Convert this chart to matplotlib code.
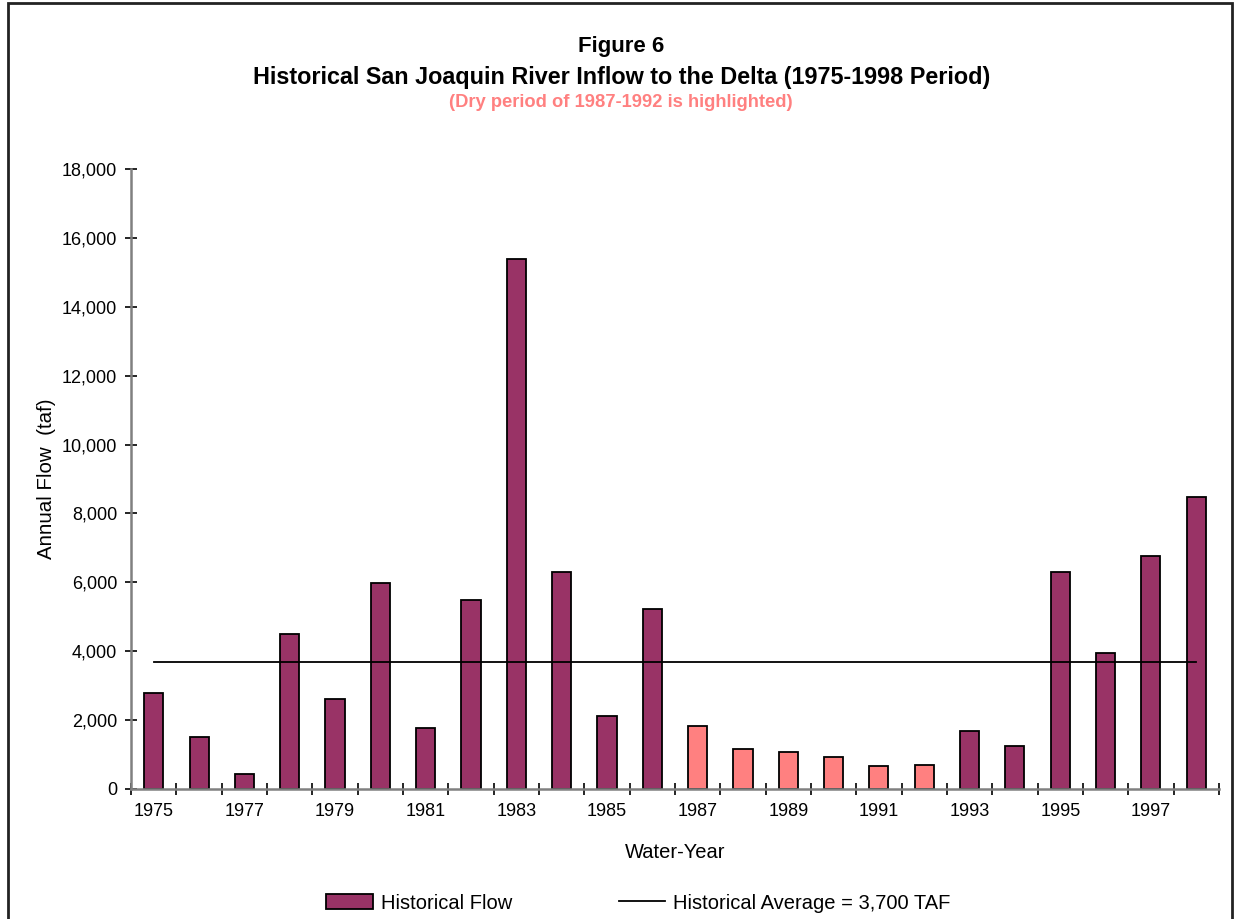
import matplotlib
matplotlib.use("Agg")
import matplotlib.pyplot as plt
from matplotlib.patches import Patch, Rectangle
from matplotlib.lines import Line2D
from matplotlib.ticker import FuncFormatter

plt.rcParams['font.family'] = ['Liberation Sans', 'DejaVu Sans']

# annual San Joaquin inflow (taf)
years = list(range(1975, 1999))
flow = [2800, 1520, 420, 4490, 2600, 5970, 1780, 5480, 15400, 6300, 2110, 5230,
        1820, 1160, 1080, 920, 670, 710, 1690, 1240, 6300, 3960, 6750, 8490]
dry_years = [1987, 1988, 1989, 1990, 1991, 1992]
avg_flow = 3700
y_ticks = [0, 2000, 4000, 6000, 8000, 10000, 12000, 14000, 16000, 18000]

wet_color = "#993366"
dry_color = "#FF8080"
axis_grey = "#808080"

fig = plt.figure(figsize=(12.35, 9.19), dpi=100)
ax = fig.add_axes([0.1061, 0.1415, 0.8809, 0.6746])

idx = list(range(len(years)))
colors = [dry_color if y in dry_years else wet_color for y in years]
ax.bar(idx, flow, width=0.42, color=colors, edgecolor="black", linewidth=1.3, zorder=2)

# historical average line, drawn from first to last bar centre
ax.plot([idx[0], idx[-1]], [avg_flow, avg_flow], color="black", linewidth=1.3, zorder=3)

ax.set_xlim(-0.5, len(years) - 0.5)
ax.set_ylim(0, 18000)

ax.set_yticks(y_ticks)
ax.yaxis.set_major_formatter(FuncFormatter(lambda v, p: f"{int(v):,}"))

ax.set_xticks(idx[::2])
ax.set_xticklabels([str(y) for y in years[::2]])
ax.set_xticks([i - 0.5 for i in range(len(years) + 1)], minor=True)

ax.tick_params(axis="x", which="major", length=0, pad=10, labelsize=13)
ax.tick_params(axis="x", which="minor", direction="inout", length=8, width=1.2, color="black")
ax.tick_params(axis="y", direction="inout", length=8, width=1.2, color="black", pad=6, labelsize=13)

for side in ["top", "right"]:
    ax.spines[side].set_visible(False)
for side in ["left", "bottom"]:
    ax.spines[side].set_color(axis_grey)
    ax.spines[side].set_linewidth(1.8)

ax.set_xlabel("Water-Year", fontsize=14.5, labelpad=17)
ax.set_ylabel("Annual Flow  (taf)", fontsize=14.8, labelpad=4)

# titles
fig.text(0.503, 0.949, "Figure 6", ha="center", va="center", fontsize=16, fontweight="bold")
fig.text(0.503, 0.916, "Historical San Joaquin River Inflow to the Delta (1975-1998 Period)",
         ha="center", va="center", fontsize=16.8, fontweight="bold")
fig.text(0.503, 0.888, "(Dry period of 1987-1992 is highlighted)", ha="center", va="center",
         fontsize=13.2, fontweight="bold", color=dry_color)

# legend at the bottom
handles = [Patch(facecolor=wet_color, edgecolor="black", linewidth=1.3),
           Line2D([0], [0], color="black", linewidth=1.3)]
fig.legend(handles, ["Historical Flow", "Historical Average = 3,700 TAF"],
           loc="center", bbox_to_anchor=(0.517, 0.0174), ncol=2, frameon=False,
           fontsize=14.5, handlelength=2.3, handleheight=0.7, handletextpad=0.4,
           columnspacing=5.3, borderpad=0)

# outer chart frame (bottom edge falls outside the picture)
fig.patches.append(Rectangle((0.0065, -0.05), 0.9911, 1.0467, transform=fig.transFigure,
                             fill=False, edgecolor="#222222", linewidth=2))

fig.savefig("out.png", dpi=100)
